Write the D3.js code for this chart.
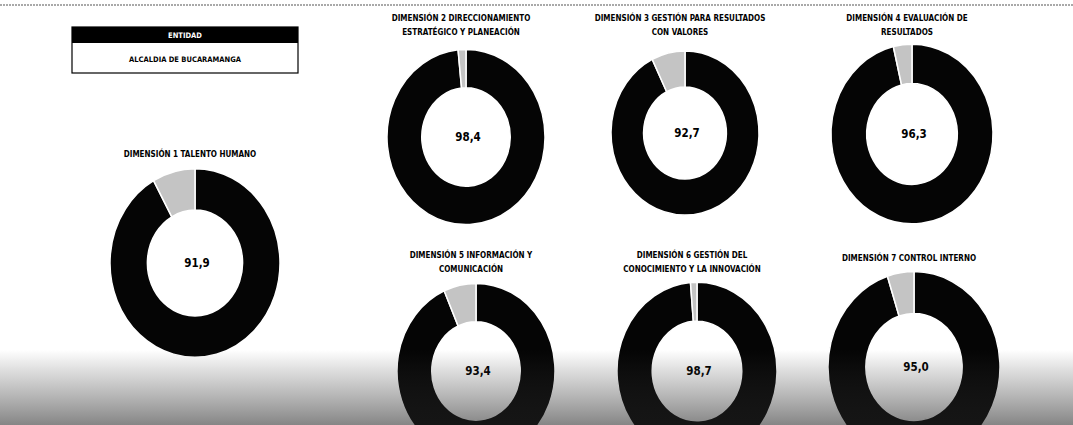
<!DOCTYPE html>
<html>
<head>
<meta charset="utf-8">
<script src="https://cdn.jsdelivr.net/npm/d3@7"></script>
<style>
    body { margin: 0; background: #fff; }
    svg { display: block; }
    text { font-family: "Liberation Sans Narrow", "DejaVu Sans Condensed", "Liberation Sans", sans-serif; font-weight: bold; }
</style>
</head>
<body>
<div id="chart"></div>
<script>
// data
const entidad = "ALCALDIA DE BUCARAMANGA";
const dimensiones = [
    ["DIMENSIÓN 1 TALENTO HUMANO"],
    ["DIMENSIÓN 2 DIRECCIONAMIENTO", "ESTRATÉGICO Y PLANEACIÓN"],
    ["DIMENSIÓN 3 GESTIÓN PARA RESULTADOS", "CON VALORES"],
    ["DIMENSIÓN 4 EVALUACIÓN DE", "RESULTADOS"],
    ["DIMENSIÓN 5 INFORMACIÓN Y", "COMUNICACIÓN"],
    ["DIMENSIÓN 6 GESTIÓN DEL", "CONOCIMIENTO Y LA INNOVACIÓN"],
    ["DIMENSIÓN 7 CONTROL INTERNO"]
];
const valores = [91.9, 98.4, 92.7, 96.3, 93.4, 98.7, 95.0];
const maximo = 100;

// where each donut sits on the page (centre x, centre y, outer radius, title y)
const layout = [
    {cx: 195, cy: 263, r: 85, ty: 154},
    {cx: 466, cy: 137, r: 79, ty: 18},
    {cx: 685, cy: 133, r: 74, ty: 18},
    {cx: 912, cy: 134, r: 81, ty: 18},
    {cx: 476, cy: 371, r: 79, ty: 255},
    {cx: 697, cy: 371, r: 80, ty: 255},
    {cx: 914, cy: 367, r: 86, ty: 258}
];

const width = 1073, height = 425;
const stretch = 1.11;   // the scan is a bit taller than wide

const svg = d3.select("#chart").append("svg")
    .attr("width", width)
    .attr("height", height);

const defs = svg.append("defs");
const grad = defs.append("linearGradient")
    .attr("id", "scan")
    .attr("x1", 0).attr("y1", 0).attr("x2", 0).attr("y2", 1);
grad.append("stop").attr("offset", "0%").attr("stop-color", "#333").attr("stop-opacity", 0);
grad.append("stop").attr("offset", "30%").attr("stop-color", "#333").attr("stop-opacity", 0.18);
grad.append("stop").attr("offset", "100%").attr("stop-color", "#222").attr("stop-opacity", 0.55);

// dotted line across the top of the scan
svg.append("line")
    .attr("x1", 0).attr("x2", width)
    .attr("y1", 5).attr("y2", 5)
    .attr("stroke", "#555")
    .attr("stroke-width", 1.2)
    .attr("stroke-dasharray", "2,1");

// entity box
let box = svg.append("g").attr("transform", "translate(72,27)");
box.append("rect")
    .attr("width", 226).attr("height", 46)
    .attr("fill", "#fff").attr("stroke", "#000").attr("stroke-width", 1.2);
box.append("rect")
    .attr("width", 226).attr("height", 16)
    .attr("fill", "#000");
box.append("text")
    .attr("x", 113).attr("y", 8)
    .attr("dy", "0.35em")
    .attr("text-anchor", "middle")
    .attr("fill", "#fff")
    .attr("font-size", 7.5)
    .text("ENTIDAD");
box.append("text")
    .attr("x", 113).attr("y", 32)
    .attr("dy", "0.35em")
    .attr("text-anchor", "middle")
    .attr("font-size", 7.5)
    .text(entidad);

const pie = d3.pie()
    .sort(null)
    .value(d => d);

valores.forEach(function(v, i) {
    let L = layout[i];
    let g = svg.append("g");

    let arc = d3.arc()
        .innerRadius(L.r * 0.56)
        .outerRadius(L.r);

    g.append("g")
        .attr("transform", `translate(${L.cx},${L.cy}) scale(1,${stretch})`)
        .selectAll("path")
        .data(pie([v, maximo - v]))
        .join("path")
        .attr("d", arc)
        .attr("fill", (d, j) => j === 0 ? "#050505" : "#c4c4c4")
        .attr("stroke", "#fff")
        .attr("stroke-width", 1.5);

    g.append("text")
        .attr("x", L.cx + 2)
        .attr("y", L.cy)
        .attr("dy", "0.35em")
        .attr("text-anchor", "middle")
        .attr("font-size", 11.5)
        .text(d3.format(".1f")(v).replace(".", ","));

    g.selectAll(".titulo")
        .data(dimensiones[i])
        .join("text")
        .attr("class", "titulo")
        .attr("x", L.cx - 5)
        .attr("y", (d, j) => L.ty + j * 14)
        .attr("dy", "0.35em")
        .attr("text-anchor", "middle")
        .attr("font-size", 8)
        .text(d => d);
});

// grey band the copier left along the bottom
svg.append("rect")
    .attr("x", 0).attr("y", 350)
    .attr("width", width).attr("height", height - 350)
    .attr("fill", "url(#scan)")
    .attr("pointer-events", "none");
</script>
</body>
</html>
